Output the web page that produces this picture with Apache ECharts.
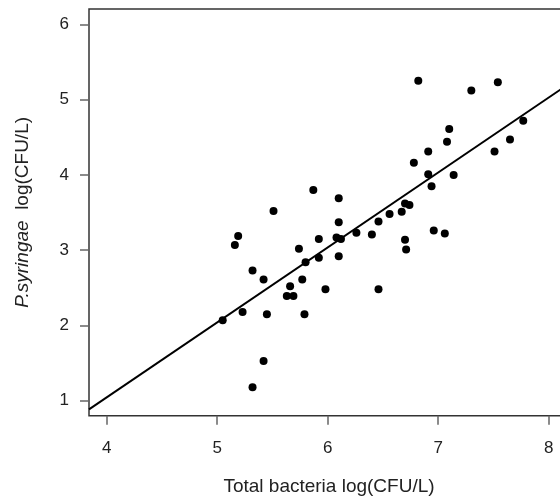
<!DOCTYPE html>
<html>
<head>
<meta charset="utf-8">
<script src="https://cdn.jsdelivr.net/npm/echarts@6/dist/echarts.min.js"></script>
<style>html,body{margin:0;padding:0;background:#fff}#c{width:560px;height:500px}</style>
</head>
<body>
<div id="c"></div>
<script>
// Total bacteria log(CFU/L)
const totalBacteria = [5.05,5.23,5.32,5.42,5.45,5.42,5.32,5.16,5.19,5.51,
  5.74,5.80,5.66,5.77,5.63,5.69,5.79,5.98,6.46,5.92,
  6.10,5.87,6.10,6.10,5.92,6.08,6.12,6.26,6.40,6.46,
  6.56,6.67,6.70,6.74,6.70,6.71,6.94,6.96,7.06,6.82,
  7.30,7.54,7.10,7.08,6.91,6.78,7.51,7.65,7.77,6.91,7.14];
// P.syringae log(CFU/L)
const pSyringae = [2.07,2.18,2.73,2.61,2.15,1.53,1.18,3.07,3.19,3.52,
  3.02,2.84,2.52,2.61,2.39,2.39,2.15,2.48,2.48,2.90,
  2.92,3.80,3.69,3.37,3.15,3.17,3.15,3.23,3.21,3.38,
  3.48,3.51,3.62,3.60,3.14,3.01,3.85,3.26,3.22,5.25,
  5.12,5.23,4.61,4.44,4.31,4.16,4.31,4.47,4.72,4.01,4.00];
// regression line endpoints
const fitX = [3.84, 8.3];
const fitY = [0.887, 5.325];
const xTicks = [4,5,6,7,8];
const yTicks = [1,2,3,4,5,6];

const chart = echarts.init(document.getElementById('c'), null, {renderer:'canvas'});
const font = 'Liberation Sans, Arial, sans-serif';
chart.setOption({
  animation:false,
  grid:{left:89, top:9, width:480, height:406.7, outerBoundsMode:'none', containLabel:false,
    show:true, borderColor:'#333', borderWidth:1.5, backgroundColor:'#fff'},
  xAxis:{type:'value', min:3.84, max:8.184,
    name:'Total bacteria log(CFU/L)', nameLocation:'middle', nameGap:62,
    nameTextStyle:{fontFamily:font, fontSize:19, color:'#222'},
    axisLine:{show:false}, splitLine:{show:false},
    axisTick:{show:true, length:9, customValues:xTicks, lineStyle:{color:'#666', width:1.5}},
    axisLabel:{customValues:xTicks, margin:24, fontFamily:font, fontSize:17, color:'#222'}},
  yAxis:{type:'value', min:0.802, max:6.203,
    name:'{i|P.syringae}  log(CFU/L)', nameLocation:'middle', nameGap:57,
    nameTextStyle:{fontFamily:font, fontSize:19, color:'#222',
      rich:{i:{fontStyle:'italic', fontFamily:font, fontSize:19, color:'#222'}}},
    axisLine:{show:false}, splitLine:{show:false},
    axisTick:{show:true, length:9, customValues:yTicks, lineStyle:{color:'#666', width:1.5}},
    axisLabel:{customValues:yTicks, margin:20, fontFamily:font, fontSize:17, color:'#222'}},
  series:[
    {type:'line', data:fitX.map((x,i)=>[x,fitY[i]]), symbol:'none',
     lineStyle:{color:'#000', width:2}, clip:true, z:2},
    {type:'scatter', data:totalBacteria.map((x,i)=>[x,pSyringae[i]]), symbol:'circle', symbolSize:8,
     itemStyle:{color:'#000', opacity:1}, z:3}
  ]
});
</script>
</body>
</html>
